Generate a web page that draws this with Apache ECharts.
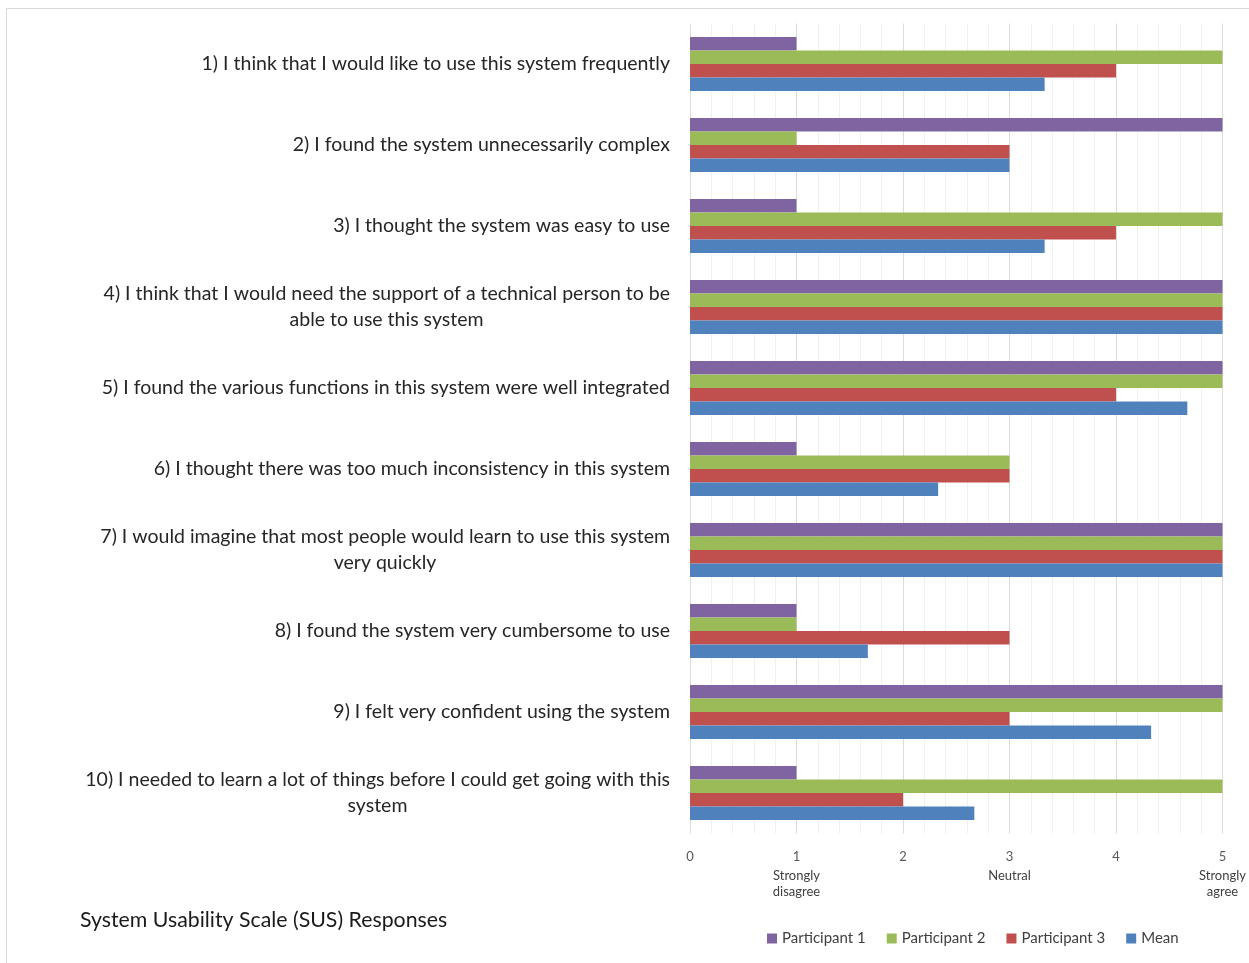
<!DOCTYPE html>
<html>
<head>
<meta charset="utf-8">
<script src="https://cdn.jsdelivr.net/npm/echarts@6/dist/echarts.min.js"></script>
<style>
  html, body { margin: 0; padding: 0; background: #fff; }
</style>
</head>
<body>
<div id="main" style="width:1249px;height:963px;"></div>
<script type="text/javascript">
var questions = [
  '1) I think that I would like to use this system frequently',
  '2) I found the system unnecessarily complex',
  '3) I thought the system was easy to use',
  '4) I think that I would need the support of a technical person to be\nable to use this system',
  '5) I found the various functions in this system were well integrated',
  '6) I thought there was too much inconsistency in this system',
  '7) I would imagine that most people would learn to use this system\nvery quickly',
  '8) I found the system very cumbersome to use',
  '9) I felt very confident using the system',
  '10) I needed to learn a lot of things before I could get going with this\nsystem'
];
var participant1 = [1, 5, 1, 5, 5, 1, 5, 1, 5, 1];
var participant2 = [5, 1, 5, 5, 5, 3, 5, 1, 5, 5];
var participant3 = [4, 3, 4, 5, 4, 3, 5, 3, 3, 2];
var mean = [3.33, 3, 3.33, 5, 4.67, 2.33, 5, 1.67, 4.33, 2.67];
var scaleWords = { 1: ['Strongly', 'disagree'], 3: ['Neutral'], 5: ['Strongly', 'agree'] };

var qSize = 19.5;
var ctx = document.createElement('canvas').getContext('2d');
ctx.font = qSize + 'px Lato';

// wrapped labels: centre the second line under the first, like Excel does
var richQ = {
  q: { fontSize: qSize, fontFamily: 'Lato', color: '#262626', lineHeight: 26 }
};
var qLabel = function (text, idx) {
  var lines = text.split('\n');
  if (lines.length === 1) return '{q|' + text + '}';
  var w = Math.ceil(ctx.measureText(lines[0]).width);
  richQ['c' + idx] = { fontSize: qSize, fontFamily: 'Lato', color: '#262626', lineHeight: 26, width: w, align: 'center' };
  return '{q|' + lines[0] + '}\n{c' + idx + '|' + lines[1] + '}';
};
var qLabels = questions.map(qLabel);

var myChart = echarts.init(document.getElementById('main'));

var barSeries = function (name, data, color) {
  return {
    name: name,
    type: 'bar',
    data: data,
    barGap: 0,
    barCategoryGap: '33.3%',
    itemStyle: { color: color }
  };
};

var option = {
  backgroundColor: '#fff',
  animation: false,
  title: {
    text: 'System Usability Scale (SUS) Responses',
    left: 75,
    top: 905,
    textStyle: { fontFamily: 'Lato', fontSize: 21.3, fontWeight: 'normal', color: '#1a1a1a' }
  },
  legend: {
    left: 762,
    top: 926,
    itemWidth: 10,
    itemHeight: 10,
    itemGap: 21,
    icon: 'rect',
    textStyle: { fontFamily: 'Lato', fontSize: 15, color: '#404040' },
    data: ['Participant 1', 'Participant 2', 'Participant 3', 'Mean']
  },
  graphic: [{
    type: 'rect',
    shape: { x: 6.5, y: 8.5, width: 1400, height: 1000 },
    style: { fill: 'none', stroke: '#d9d9d9', lineWidth: 1 },
    silent: true
  }],
  grid: { left: 690, right: 25, top: 23.5, bottom: 129.5, containLabel: false },
  xAxis: {
    type: 'value',
    min: 0,
    max: 5,
    interval: 1,
    axisLine: { show: false },
    axisTick: { show: false },
    minorTick: { show: false, splitNumber: 5 },
    splitLine: { show: true, lineStyle: { color: '#dcdcdc' } },
    minorSplitLine: { show: true, lineStyle: { color: '#f0f0f0' } },
    axisLabel: {
      margin: 13,
      formatter: function (v) {
        var s = '{n|' + v + '}';
        var words = scaleWords[v];
        if (words) {
          words.forEach(function (w) { s += '\n{s|' + w + '}'; });
        }
        return s;
      },
      rich: {
        n: { fontFamily: 'Lato', fontSize: 13, color: '#595959', lineHeight: 21 },
        s: { fontFamily: 'Lato', fontSize: 13, color: '#404040', lineHeight: 16 }
      },
      verticalAlign: 'top'
    }
  },
  yAxis: {
    type: 'category',
    inverse: true,
    data: questions,
    axisLine: { show: false },
    axisTick: { show: false },
    axisLabel: {
      margin: 20,
      formatter: function (v, i) { return qLabels[i]; },
      rich: richQ
    }
  },
  series: [
    barSeries('Participant 1', participant1, '#8064A2'),
    barSeries('Participant 2', participant2, '#9BBB59'),
    barSeries('Participant 3', participant3, '#C0504D'),
    barSeries('Mean', mean, '#4F81BD')
  ]
};

myChart.setOption(option);
</script>
</body>
</html>
